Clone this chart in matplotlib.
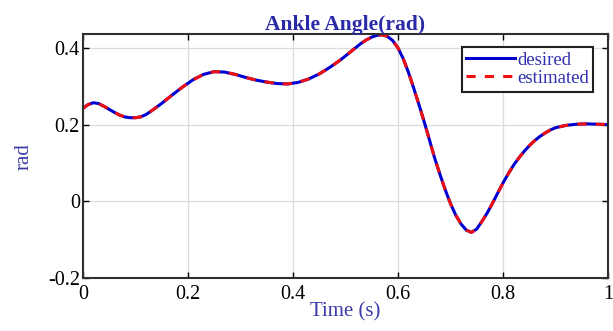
import numpy as np
import matplotlib.pyplot as plt

# ankle angle samples (time in s, angle in rad)
t = [0.0, 0.01, 0.02, 0.03, 0.04, 0.05, 0.06, 0.07, 0.08, 0.09,
     0.10, 0.11, 0.12, 0.13, 0.14, 0.15, 0.17, 0.19, 0.21, 0.23,
     0.25, 0.27, 0.29, 0.31, 0.33, 0.35, 0.37, 0.39, 0.41, 0.43,
     0.45, 0.47, 0.49, 0.51, 0.53, 0.54, 0.55, 0.56, 0.57, 0.58,
     0.59, 0.60, 0.61, 0.62, 0.63, 0.64, 0.65, 0.66, 0.67, 0.68,
     0.69, 0.70, 0.71, 0.72, 0.73, 0.74, 0.75, 0.76, 0.77, 0.78,
     0.79, 0.80, 0.81, 0.82, 0.83, 0.84, 0.85, 0.86, 0.87, 0.88,
     0.89, 0.90, 0.92, 0.94, 0.96, 0.98, 1.0]
desired = [0.242, 0.252, 0.257, 0.255, 0.248, 0.240, 0.232, 0.225, 0.220, 0.218,
           0.218, 0.220, 0.226, 0.235, 0.245, 0.255, 0.277, 0.298, 0.317, 0.331,
           0.338, 0.337, 0.331, 0.323, 0.316, 0.311, 0.307, 0.306, 0.310, 0.319,
           0.332, 0.349, 0.368, 0.390, 0.412, 0.421, 0.428, 0.433, 0.434, 0.430,
           0.419, 0.400, 0.372, 0.336, 0.295, 0.252, 0.207, 0.160, 0.112, 0.070,
           0.030, -0.006, -0.036, -0.059, -0.075, -0.081, -0.072, -0.052, -0.030, -0.005,
           0.022, 0.048, 0.072, 0.094, 0.113, 0.130, 0.145, 0.158, 0.169, 0.178,
           0.186, 0.192, 0.198, 0.201, 0.202, 0.201, 0.200]
estimated = list(desired)

fig = plt.figure(figsize=(6.13, 3.31), dpi=100)
ax = fig.add_axes([0.135, 0.160, 0.857, 0.737])
plt.rcParams['font.family'] = ['Liberation Serif', 'DejaVu Serif']

ax.plot(t, desired, color='#0000d0', lw=2.2, label='desired')
ax.plot(t, estimated, color='#f01010', lw=2.2, ls=(0, (3, 3)), label='estimated')

ax.set_xlim(0, 1)
ax.set_ylim(-0.2, 0.436)
ax.set_xticks([0, 0.2, 0.4, 0.6, 0.8, 1])
ax.set_xticklabels(['0', '0.2', '0.4', '0.6', '0.8', '1'], family='Liberation Serif', fontsize=14.5)
ax.set_yticks([-0.2, 0, 0.2, 0.4])
ax.set_yticklabels(['-0.2', '0', '0.2', '0.4'], family='Liberation Serif', fontsize=14.5)
ax.tick_params(direction='in', top=True, right=True, length=4, width=1)
ax.tick_params(axis='x', pad=5)
ax.tick_params(axis='y', pad=2)
ax.grid(True, color='#dcdcdc', lw=0.9)
for s in ax.spines.values():
    s.set_linewidth(1.5)
    s.set_color('#303030')

ax.set_title('Ankle Angle(rad)', family='Liberation Serif', fontsize=15.5,
             fontweight='bold', color='#2a2aa8', pad=3)
ax.set_xlabel('Time (s)', family='Liberation Serif', fontsize=15, color='#3a3aa8', labelpad=-1)
ax.set_ylabel('rad', family='Liberation Serif', fontsize=15, color='#3a3aa8', labelpad=10)

leg = ax.legend(loc='upper right', bbox_to_anchor=(0.99, 0.985), fancybox=False,
                framealpha=1, edgecolor='#202020', handlelength=2.6, handletextpad=0.1,
                borderpad=0.25, labelspacing=0.05, prop={'family': 'Liberation Serif', 'size': 13.5})
leg.get_frame().set_linewidth(1.5)
for txt in leg.get_texts():
    txt.set_color('#3030b0')

fig.savefig('out.png', dpi=100)
